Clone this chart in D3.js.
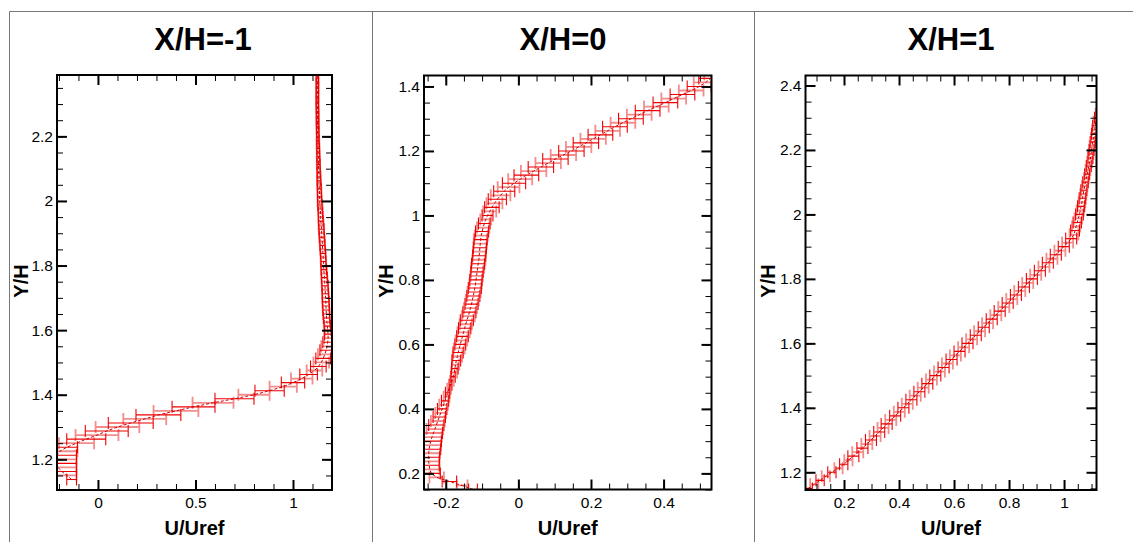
<!DOCTYPE html>
<html><head><meta charset="utf-8">
<script src="https://cdn.jsdelivr.net/npm/d3@7"></script>
<style>body{margin:0;background:#fff}svg{display:block}</style>
</head><body><svg id="c" width="1133" height="542"></svg>
<script>
// ---------------- DATA ----------------
const titles = ["X/H=-1", "X/H=0", "X/H=1"];
const xLabel = "U/Uref", yLabel = "Y/H";

// axis ranges
const xRange1 = [-0.21, 1.2],  yRange1 = [1.105, 2.39];
const xRange2 = [-0.26, 0.532], yRange2 = [0.15, 1.434];
const xRange3 = [0.06, 1.118], yRange3 = [1.145, 2.431];

// tick labels
const xTicks1 = [0, 0.5, 1],             yTicks1 = [1.2, 1.4, 1.6, 1.8, 2, 2.2];
const xTicks2 = [-0.2, 0, 0.2, 0.4],     yTicks2 = [0.2, 0.4, 0.6, 0.8, 1, 1.2, 1.4];
const xTicks3 = [0.2, 0.4, 0.6, 0.8, 1], yTicks3 = [1.2, 1.4, 1.6, 1.8, 2, 2.2, 2.4];
const xMinorStep = [0.1, 0.05, 0.05], yMinorStep = [0.05, 0.05, 0.05];

// X/H = -1 : height, mean U/Uref, half error bar
const y1 = [1.1375,1.15,1.1625,1.175,1.1875,1.2,1.2125,1.225,1.2375,1.25,1.2625,1.275,1.2875,1.3,1.3125,1.325,1.3375,1.35,1.3625,1.375,1.3875,1.4,1.4125,1.425,1.4375,1.45,1.4625,1.475,1.4875,1.5,1.5125,1.525,1.5375,1.55,1.5625,1.575,1.5875,1.6,1.6125,1.625,1.6375,1.65,1.6625,1.675,1.6875,1.7,1.7125,1.725,1.7375,1.75,1.7625,1.775,1.7875,1.8,1.8125,1.825,1.8375,1.85,1.8625,1.875,1.8875,1.9,1.9125,1.925,1.9375,1.95,1.9625,1.975,1.9875,2.0,2.0125,2.025,2.0375,2.05,2.0625,2.075,2.0875,2.1,2.1125,2.125,2.1375,2.15,2.1625,2.175,2.1875,2.2,2.2125,2.225,2.2375,2.25,2.2625,2.275,2.2875,2.3,2.3125,2.325,2.3375,2.35,2.3625,2.375,2.3875];
const u1 = [-0.135,-0.16,-0.185,-0.205,-0.215,-0.215,-0.21,-0.195,-0.16,-0.11,-0.06,-0.005,0.045,0.1,0.168,0.24,0.31,0.4,0.49,0.59,0.7,0.8,0.88,0.95,1.0,1.045,1.08,1.11,1.13,1.145,1.155,1.163,1.17,1.175,1.178,1.18,1.18,1.178,1.176,1.174,1.172,1.171,1.17,1.169,1.168,1.167,1.166,1.165,1.164,1.162,1.161,1.16,1.158,1.157,1.156,1.155,1.154,1.152,1.151,1.15,1.148,1.147,1.146,1.144,1.143,1.142,1.141,1.14,1.138,1.137,1.136,1.136,1.135,1.134,1.133,1.133,1.132,1.131,1.131,1.13,1.13,1.129,1.129,1.128,1.128,1.127,1.127,1.127,1.126,1.126,1.126,1.126,1.125,1.125,1.125,1.125,1.125,1.125,1.125,1.125,1.125];
const e1 = [0.025,0.05,0.075,0.095,0.105,0.105,0.1,0.09,0.055,0.09,0.1,0.11,0.11,0.112,0.115,0.11,0.115,0.115,0.11,0.105,0.1,0.08,0.075,0.07,0.06,0.055,0.045,0.04,0.04,0.04,0.038,0.035,0.032,0.03,0.025,0.02,0.018,0.016,0.016,0.016,0.016,0.017,0.017,0.017,0.017,0.017,0.016,0.016,0.016,0.015,0.015,0.014,0.014,0.013,0.013,0.013,0.013,0.013,0.013,0.013,0.013,0.013,0.013,0.013,0.012,0.012,0.011,0.011,0.011,0.011,0.01,0.01,0.01,0.009,0.009,0.009,0.008,0.008,0.008,0.008,0.007,0.007,0.007,0.007,0.006,0.006,0.006,0.006,0.006,0.006,0.006,0.006,0.006,0.006,0.006,0.006,0.006,0.006,0.006,0.006,0.006];

// X/H = 0
const y2 = [0.15,0.1625,0.175,0.1875,0.2,0.2125,0.225,0.2375,0.25,0.2625,0.275,0.2875,0.3,0.3125,0.325,0.3375,0.35,0.3625,0.375,0.3875,0.4,0.4125,0.425,0.4375,0.45,0.4625,0.475,0.4875,0.5,0.5125,0.525,0.5375,0.55,0.5625,0.575,0.5875,0.6,0.6125,0.625,0.6375,0.65,0.6625,0.675,0.6875,0.7,0.7125,0.725,0.7375,0.75,0.7625,0.775,0.7875,0.8,0.8125,0.825,0.8375,0.85,0.8625,0.875,0.8875,0.9,0.9125,0.925,0.9375,0.95,0.9625,0.975,0.9875,1.0,1.0125,1.025,1.0375,1.05,1.0625,1.075,1.0875,1.1,1.1125,1.125,1.1375,1.15,1.1625,1.175,1.1875,1.2,1.2125,1.225,1.2375,1.25,1.2625,1.275,1.2875,1.3,1.3125,1.325,1.3375,1.35,1.3625,1.375,1.3875,1.4,1.4125,1.425,1.4375];
const u2 = [-0.125,-0.155,-0.19,-0.225,-0.24,-0.244,-0.246,-0.247,-0.247,-0.247,-0.246,-0.244,-0.241,-0.238,-0.234,-0.23,-0.226,-0.222,-0.218,-0.214,-0.21,-0.206,-0.202,-0.198,-0.195,-0.191,-0.187,-0.183,-0.18,-0.177,-0.175,-0.173,-0.171,-0.168,-0.166,-0.163,-0.16,-0.157,-0.154,-0.151,-0.148,-0.145,-0.142,-0.138,-0.135,-0.132,-0.129,-0.127,-0.124,-0.122,-0.12,-0.118,-0.117,-0.115,-0.114,-0.112,-0.111,-0.109,-0.108,-0.107,-0.106,-0.105,-0.104,-0.102,-0.1,-0.097,-0.094,-0.09,-0.085,-0.079,-0.073,-0.066,-0.058,-0.049,-0.039,-0.027,-0.012,0.005,0.022,0.042,0.062,0.082,0.102,0.124,0.146,0.166,0.186,0.206,0.226,0.246,0.266,0.288,0.31,0.333,0.356,0.38,0.405,0.428,0.452,0.476,0.498,0.516,0.53,0.545];
const e2 = [0.012,0.015,0.02,0.02,0.025,0.027,0.028,0.029,0.03,0.031,0.032,0.031,0.029,0.027,0.025,0.023,0.021,0.019,0.017,0.015,0.013,0.012,0.01,0.008,0.006,0.005,0.004,0.005,0.006,0.008,0.009,0.01,0.012,0.013,0.014,0.015,0.015,0.016,0.016,0.017,0.017,0.017,0.018,0.018,0.018,0.018,0.018,0.018,0.018,0.018,0.018,0.017,0.017,0.017,0.017,0.018,0.018,0.018,0.018,0.018,0.018,0.018,0.018,0.018,0.018,0.017,0.016,0.015,0.015,0.018,0.02,0.022,0.025,0.027,0.029,0.03,0.032,0.033,0.034,0.035,0.035,0.035,0.035,0.035,0.035,0.035,0.035,0.035,0.034,0.034,0.034,0.034,0.034,0.034,0.034,0.034,0.034,0.034,0.034,0.034,0.033,0.033,0.033,0.033];

// X/H = 1
const y3 = [1.15,1.1625,1.175,1.1875,1.2,1.2125,1.225,1.2375,1.25,1.2625,1.275,1.2875,1.3,1.3125,1.325,1.3375,1.35,1.3625,1.375,1.3875,1.4,1.4125,1.425,1.4375,1.45,1.4625,1.475,1.4875,1.5,1.5125,1.525,1.5375,1.55,1.5625,1.575,1.5875,1.6,1.6125,1.625,1.6375,1.65,1.6625,1.675,1.6875,1.7,1.7125,1.725,1.7375,1.75,1.7625,1.775,1.7875,1.8,1.8125,1.825,1.8375,1.85,1.8625,1.875,1.8875,1.9,1.9125,1.925,1.9375,1.95,1.9625,1.975,1.9875,2.0,2.0125,2.025,2.0375,2.05,2.0625,2.075,2.0875,2.1,2.1125,2.125,2.1375,2.15,2.1625,2.175,2.1875,2.2,2.2125,2.225,2.2375,2.25,2.2625,2.275,2.2875,2.3,2.3125];
const u3 = [0.07,0.092,0.113,0.134,0.156,0.18,0.199,0.216,0.234,0.25,0.267,0.283,0.298,0.313,0.328,0.342,0.355,0.37,0.386,0.401,0.416,0.43,0.445,0.459,0.474,0.488,0.503,0.518,0.532,0.547,0.562,0.576,0.591,0.605,0.62,0.635,0.649,0.664,0.679,0.693,0.708,0.722,0.737,0.752,0.766,0.781,0.795,0.81,0.825,0.839,0.854,0.868,0.883,0.897,0.912,0.927,0.941,0.956,0.97,0.985,0.999,1.013,1.026,1.036,1.04,1.044,1.048,1.052,1.056,1.059,1.062,1.065,1.067,1.07,1.072,1.075,1.078,1.081,1.084,1.087,1.09,1.093,1.096,1.098,1.1,1.102,1.104,1.107,1.109,1.111,1.113,1.116,1.12,1.124];
const e3 = [0.015,0.015,0.015,0.015,0.015,0.015,0.015,0.015,0.02,0.02,0.02,0.02,0.02,0.02,0.02,0.02,0.02,0.02,0.02,0.02,0.02,0.02,0.02,0.02,0.02,0.02,0.02,0.02,0.02,0.02,0.02,0.02,0.02,0.02,0.02,0.02,0.02,0.02,0.02,0.02,0.02,0.02,0.02,0.02,0.02,0.02,0.02,0.02,0.02,0.02,0.02,0.02,0.02,0.02,0.02,0.02,0.02,0.02,0.02,0.02,0.02,0.02,0.02,0.016,0.016,0.015,0.015,0.014,0.014,0.013,0.013,0.012,0.012,0.011,0.011,0.01,0.01,0.009,0.009,0.009,0.009,0.009,0.009,0.009,0.009,0.009,0.009,0.009,0.009,0.009,0.009,0.009,0.009,0.009];

// ---------------- LAYOUT ----------------
const panels = [
  {L:57,  R:332,   T:75,   B:490,   titleX:203, ylabX:21,    xr:xRange1, yr:yRange1, xt:xTicks1, yt:yTicks1, ys:y1, us:u1, es:e1},
  {L:424, R:711.5, T:75.5, B:489.5, titleX:563, ylabX:386,   xr:xRange2, yr:yRange2, xt:xTicks2, yt:yTicks2, ys:y2, us:u2, es:e2},
  {L:805.5,R:1096.5,T:75.5,B:490,   titleX:951, ylabX:767.5, xr:xRange3, yr:yRange3, xt:xTicks3, yt:yTicks3, ys:y3, us:u3, es:e3}
];
const FONT = "'Liberation Sans', Arial, Helvetica, sans-serif";
const CAP = 6;
const svg = d3.select("#c");
const fmt = d => String(+(+d).toFixed(2));

// outer frame lines
const frameCol = "#777";
svg.append("line").attr("x1",9.5).attr("x2",1133).attr("y1",11.5).attr("y2",11.5).attr("stroke",frameCol);
[9.5, 372.5, 754.5].forEach(xx =>
  svg.append("line").attr("x1",xx).attr("x2",xx).attr("y1",11.5).attr("y2",542).attr("stroke",frameCol));

function minorVals(dom, step){
  const a = Math.ceil(dom[0]/step - 1e-9), b = Math.floor(dom[1]/step + 1e-9);
  return d3.range(a, b+1).map(k => +(k*step).toFixed(4));
}
function styleAxis(g, w){
  g.select(".domain").remove();
  g.selectAll("line").attr("stroke","#000").attr("stroke-width",w);
  g.selectAll("text").attr("font-family",FONT).attr("font-size",15.5).attr("fill","#000");
}

panels.forEach((p, i) => {
  const x = d3.scaleLinear().domain(p.xr).range([p.L, p.R]);
  const y = d3.scaleLinear().domain(p.yr).range([p.B, p.T]);
  const n = Math.min(p.ys.length, p.us.length, p.es.length);
  const pts = d3.range(n).map(k => ({k, y:p.ys[k], u:p.us[k], e:p.es[k]}));

  svg.append("clipPath").attr("id","clip"+i).append("rect")
    .attr("x",p.L).attr("y",p.T).attr("width",p.R-p.L).attr("height",p.B-p.T);
  const plot = svg.append("g").attr("clip-path",`url(#clip${i})`);
  const bar = d => {
    const yy = y(d.y), x1 = x(d.u - d.e), x2 = x(d.u + d.e);
    return `M${x1},${yy-CAP}V${yy+CAP}M${x1},${yy}H${x2}M${x2},${yy-CAP}V${yy+CAP}`;
  };
  plot.append("g").selectAll("path").data(pts.filter(d => d.k % 2 === 1)).join("path")
    .attr("d", bar).attr("fill","none").attr("stroke","#f07070").attr("stroke-width",1.8).attr("opacity",0.8);
  plot.append("g").selectAll("path").data(pts.filter(d => d.k % 2 === 0)).join("path")
    .attr("d", bar).attr("fill","none").attr("stroke","#ee0000").attr("stroke-width",1.1);
  plot.append("path").datum(pts)
    .attr("d", d3.line().x(d => x(d.u)).y(d => y(d.y)))
    .attr("fill","none").attr("stroke","#cc0000").attr("stroke-width",1).attr("stroke-dasharray","3,2");

  // axes: major + minor, inward ticks on all sides
  const xm = minorVals(p.xr, xMinorStep[i]), ym = minorVals(p.yr, yMinorStep[i]);
  svg.append("g").attr("transform",`translate(${p.L},0)`)
    .call(d3.axisLeft(y).tickValues(ym).tickSize(-6).tickFormat("")).call(g => styleAxis(g,1));
  svg.append("g").attr("transform",`translate(${p.R},0)`)
    .call(d3.axisRight(y).tickValues(ym).tickSize(-6).tickFormat("")).call(g => styleAxis(g,1));
  svg.append("g").attr("transform",`translate(0,${p.B})`)
    .call(d3.axisBottom(x).tickValues(xm).tickSize(-6).tickFormat("")).call(g => styleAxis(g,1));
  svg.append("g").attr("transform",`translate(0,${p.T})`)
    .call(d3.axisTop(x).tickValues(xm).tickSize(-6).tickFormat("")).call(g => styleAxis(g,1));

  svg.append("g").attr("transform",`translate(${p.L},0)`)
    .call(d3.axisLeft(y).tickValues(p.yt).tickSize(-10).tickPadding(4).tickFormat(fmt)).call(g => styleAxis(g,2));
  svg.append("g").attr("transform",`translate(${p.R},0)`)
    .call(d3.axisRight(y).tickValues(p.yt).tickSize(-10).tickFormat("")).call(g => styleAxis(g,2));
  svg.append("g").attr("transform",`translate(0,${p.B})`)
    .call(d3.axisBottom(x).tickValues(p.xt).tickSize(-10).tickPadding(7).tickFormat(fmt)).call(g => styleAxis(g,2));
  svg.append("g").attr("transform",`translate(0,${p.T})`)
    .call(d3.axisTop(x).tickValues(p.xt).tickSize(-10).tickFormat("")).call(g => styleAxis(g,2));

  svg.append("rect").attr("x",p.L).attr("y",p.T).attr("width",p.R-p.L).attr("height",p.B-p.T)
    .attr("fill","none").attr("stroke","#000").attr("stroke-width",2);

  // titles and axis labels
  svg.append("text").attr("x",p.titleX).attr("y",50).attr("text-anchor","middle")
    .attr("font-family",FONT).attr("font-weight","bold").attr("font-size",31).text(titles[i]);
  svg.append("text").attr("x",(p.L+p.R)/2).attr("y",535).attr("text-anchor","middle")
    .attr("font-family",FONT).attr("font-weight","bold").attr("font-size",20).text(xLabel);
  svg.append("text").attr("transform",`translate(${p.ylabX},281) rotate(-90)`)
    .attr("text-anchor","middle").attr("dominant-baseline","central")
    .attr("font-family",FONT).attr("font-weight","bold").attr("font-size",20).text(yLabel);
});
</script></body></html>
